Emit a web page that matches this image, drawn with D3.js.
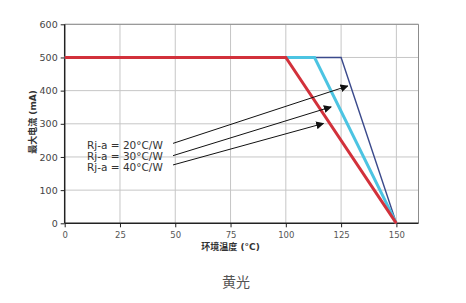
<!DOCTYPE html>
<html>
<head>
<meta charset="utf-8">
<script src="https://d3js.org/d3.v7.min.js"></script>
<style>
  body { margin: 0; background: #fff; }
  text { font-family: Verdana, "DejaVu Sans", "Noto Sans CJK SC", sans-serif; }
</style>
</head>
<body>
<div id="chart"></div>
<script>
// derating curves: ambient temperature (°C) -> max current (mA)
let temps20 = [0, 125, 150];
let current20 = [500, 500, 0];
let temps30 = [0, 113, 150];
let current30 = [500, 500, 0];
let temps40 = [0, 100, 150];
let current40 = [500, 500, 0];

let xTicks = [0, 25, 50, 75, 100, 125, 150];
let yTicks = [0, 100, 200, 300, 400, 500, 600];

let labels = ['Rj-a = 20°C/W', 'Rj-a = 30°C/W', 'Rj-a = 40°C/W'];
// arrows from label to curve, in data units [x1, y1, x2, y2]
let arrowFrom = [[49, 241], [49, 204], [49, 176]];
let arrowTo = [[128, 414], [120.5, 351], [117, 301]];

let width = 466, height = 303;
let svg = d3.select('#chart').append('svg')
  .attr('width', width)
  .attr('height', height);

let x = d3.scaleLinear().domain([0, 160]).range([64.7, 418.5]);
let y = d3.scaleLinear().domain([0, 600]).range([223.3, 24.3]);

// grid
svg.append('g').selectAll('line')
  .data(xTicks.slice(1))
  .enter().append('line')
  .attr('x1', d => x(d)).attr('x2', d => x(d))
  .attr('y1', y(0)).attr('y2', y(600))
  .attr('stroke', '#c6c6c6').attr('stroke-width', 1);
svg.append('g').selectAll('line')
  .data(yTicks.slice(1))
  .enter().append('line')
  .attr('x1', x(0)).attr('x2', x(160))
  .attr('y1', d => y(d)).attr('y2', d => y(d))
  .attr('stroke', '#c6c6c6').attr('stroke-width', 1);

// frame top / right
svg.append('path')
  .attr('d', 'M' + x(0) + ',' + y(600) + 'H' + x(160) + 'V' + y(0))
  .attr('fill', 'none').attr('stroke', '#8c8c8c').attr('stroke-width', 1);

// axes
let xAxis = svg.append('g')
  .attr('transform', 'translate(0,' + y(0) + ')')
  .call(d3.axisBottom(x).tickValues(xTicks).tickSize(4).tickPadding(5));
let yAxis = svg.append('g')
  .attr('transform', 'translate(' + x(0) + ',0)')
  .call(d3.axisLeft(y).tickValues(yTicks).tickSize(4).tickPadding(3));

xAxis.select('.domain').attr('d', 'M' + x(0) + ',0H' + x(160)).attr('stroke', '#222').attr('stroke-width', 1.5);
yAxis.select('.domain').attr('d', 'M0,' + y(0) + 'V' + y(600)).attr('stroke', '#222').attr('stroke-width', 1.5);
xAxis.selectAll('.tick line').attr('stroke', '#222');
yAxis.selectAll('.tick line').attr('stroke', '#222');
xAxis.selectAll('text').attr('fill', '#555').attr('font-size', 8.5)
  .style('font-family', 'Verdana, "DejaVu Sans", sans-serif');
yAxis.selectAll('text').attr('fill', '#444').attr('font-size', 9.5)
  .style('font-family', 'Verdana, "DejaVu Sans", sans-serif');

// curves
let line = d3.line().x(d => x(d[0])).y(d => y(d[1]));
let series = [
  { t: temps20, c: current20, color: '#3b4a8c', w: 1.4 },
  { t: temps30, c: current30, color: '#4cc4e2', w: 3 },
  { t: temps40, c: current40, color: '#d2313b', w: 3 }
];
series.forEach(s => {
  svg.append('path')
    .datum(s.t.map((t, i) => [t, s.c[i]]))
    .attr('d', line)
    .attr('fill', 'none')
    .attr('stroke', s.color)
    .attr('stroke-width', s.w)
    .attr('stroke-linejoin', 'miter');
});

// arrows
svg.append('defs').append('marker')
  .attr('id', 'arrow')
  .attr('viewBox', '0 0 10 10')
  .attr('refX', 9).attr('refY', 5)
  .attr('markerWidth', 8).attr('markerHeight', 8)
  .attr('markerUnits', 'userSpaceOnUse')
  .attr('orient', 'auto')
  .append('path').attr('d', 'M0,0L10,5L0,10z').attr('fill', '#111');

svg.append('g').selectAll('line')
  .data(arrowFrom)
  .enter().append('line')
  .attr('x1', d => x(d[0])).attr('y1', d => y(d[1]))
  .attr('x2', (d, i) => x(arrowTo[i][0])).attr('y2', (d, i) => y(arrowTo[i][1]))
  .attr('stroke', '#111').attr('stroke-width', 1)
  .attr('marker-end', 'url(#arrow)');

// labels
svg.append('g').selectAll('text')
  .data(labels)
  .enter().append('text')
  .attr('x', 87)
  .attr('y', (d, i) => 148.5 + i * 11)
  .attr('font-size', 10.5)
  .attr('fill', '#333')
  .text(d => d);

// axis titles
svg.append('text')
  .attr('x', x(75)).attr('y', 249.5)
  .attr('text-anchor', 'middle')
  .attr('font-size', 9).attr('font-weight', 'bold').attr('fill', '#333')
  .text('环境温度 (°C)');

svg.append('text')
  .attr('transform', 'translate(36,' + 122 + ') rotate(-90)')
  .attr('text-anchor', 'middle')
  .attr('font-size', 9).attr('font-weight', 'bold').attr('fill', '#333')
  .text('最大电流 (mA)');

svg.append('text')
  .attr('x', 236).attr('y', 287)
  .attr('text-anchor', 'middle')
  .attr('font-size', 14).attr('fill', '#555')
  .style('font-family', '"Noto Sans CJK SC", sans-serif')
  .text('黄光');
</script>
</body>
</html>
